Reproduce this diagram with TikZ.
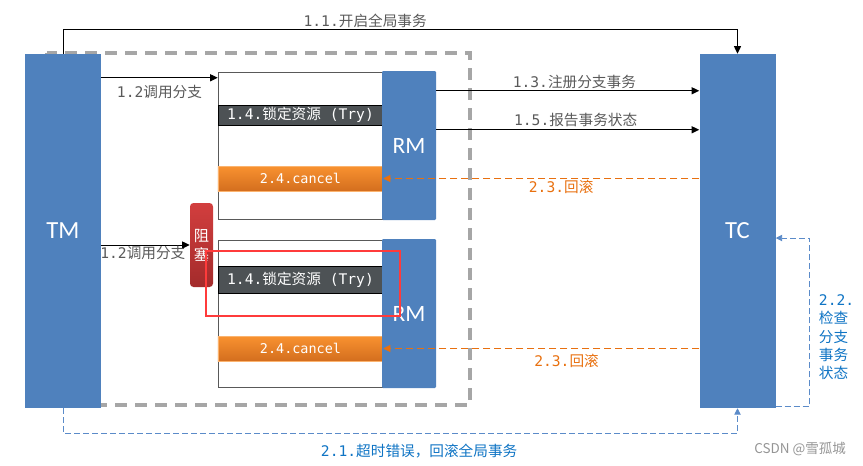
\documentclass[tikz,border=0pt]{standalone}
\usepackage{fontspec}
\newfontfamily\cjk{Noto Sans CJK SC}
\newfontfamily\mono{DejaVu Sans Mono}
\newfontfamily\cali{Carlito}
\usetikzlibrary{arrows.meta}
\definecolor{tmblue}{HTML}{4F81BD}
\definecolor{trygray}{HTML}{4D5255}
\definecolor{cantop}{HTML}{F99230}
\definecolor{canbot}{HTML}{D36E1E}
\definecolor{blocktop}{HTML}{D23E3E}
\definecolor{blockbot}{HTML}{A32B2B}
\definecolor{txtgray}{HTML}{595959}
\definecolor{rborange}{HTML}{E8700F}
\definecolor{tolblue}{HTML}{0F74C4}
\definecolor{dashgray}{HTML}{A6A6A6}
\definecolor{linkblue}{HTML}{5B8BC9}
\definecolor{markred}{HTML}{FF3B3B}

\begin{document}
\begin{tikzpicture}[x=0.03cm, y=-0.03cm, font=\cjk\fontsize{12.5}{16}\selectfont,
  party/.style={fill=tmblue, text=white, font=\cali\fontsize{21}{24}\selectfont, minimum width=2.28cm, minimum height=10.62cm, inner sep=0pt},
  rm/.style={fill=tmblue, rounded corners=1pt, text=white, font=\cali\fontsize{20}{22}\selectfont, minimum width=1.62cm, minimum height=4.47cm, inner sep=0pt},
  branch/.style={draw=txtgray, fill=white, minimum width=4.95cm, minimum height=4.41cm, inner sep=0pt},
  trybox/.style={draw=black, fill=trygray, text=white, minimum width=4.95cm, inner sep=0pt, font=\cjk\fontsize{12.5}{14}\selectfont},
  cancelbox/.style={top color=cantop, bottom color=canbot, draw=cantop!70!white, text=white, minimum width=4.95cm, minimum height=0.75cm, inner sep=0pt, font=\mono\fontsize{11.5}{14}\selectfont},
  blockbox/.style={top color=blocktop, bottom color=blockbot, rounded corners=3pt, text=white, align=center, minimum width=0.69cm, minimum height=2.52cm, inner sep=0pt, font=\cjk\fontsize{13}{16}\selectfont},
  group/.style={draw=dashgray, line width=2.7pt, dash pattern=on 0.36cm off 0.24cm},
  focus/.style={draw=markred, line width=2.2pt},
  flow/.style={-{Triangle[length=6.5pt,width=6pt]}, line width=0.85pt},
  back/.style={-{Triangle[length=6pt,width=6pt]}, draw=rborange, line width=0.8pt, dash pattern=on 0.21cm off 0.12cm},
  check/.style={-{Triangle[length=5.5pt,width=5.5pt]}, draw=linkblue, line width=0.8pt, dash pattern=on 0.18cm off 0.09cm},
  lbl/.style={text=txtgray, inner sep=1pt},
  olbl/.style={text=rborange, inner sep=1pt},
  blbl/.style={text=tolblue, inner sep=1pt}]
\useasboundingbox (0,0) rectangle (863,465);

\draw[group] (47,53) rectangle (470,405);

\node[party] (TM) at (63,231)    {TM};
\node[party] (TC) at (737.5,231) {TC};

% upper branch
\node[branch]    (br1)     at (300.5,145.5) {};
\node[trybox, minimum height=0.6cm] (try1) at (300.5,115) {{\mono 1.4.}锁定资源{\mono{} (Try)}};
\node[cancelbox] (cancel1) at (300.5,178.5) {2.4.cancel};
\node[rm]        (RM1)     at (409,145.5)   {RM};

% lower branch
\node[branch]    (br2)     at (300.5,313.5) {};
\node[trybox, minimum height=0.81cm] (try2) at (300.5,279.5) {{\mono 1.4.}锁定资源{\mono{} (Try)}};
\node[cancelbox] (cancel2) at (300.5,348.5) {2.4.cancel};
\node[rm]        (RM2)     at (409,313.5)   {RM};

\node[blockbox]  (block)   at (201.5,245)   {阻\\塞};

\coordinate (in1) at ([yshift=-0.18cm]br1.north west);
\coordinate (reg) at ([yshift=-0.6cm]RM1.north east);
\coordinate (rep) at ([yshift=-1.77cm]RM1.north east);

\draw[flow] (TM.north) -- ++(0,-24) -| node[lbl, above, pos=0.224]{{\mono 1.1.}开启全局事务} (TC.north);
\draw[flow] (TM.east |- in1) -- node[lbl, below=4.5pt]{{\mono 1.2}调用分支} (in1);
\draw[flow] (TM.east |- block.west) -- node[lbl, below, pos=0.47]{{\mono 1.2}调用分支} (block.west);
\draw[flow] (reg) -- node[lbl, above, pos=0.525]{{\mono 1.3.}注册分支事务} (TC.west |- reg);
\draw[flow] (rep) -- node[lbl, above=1.5pt, pos=0.53]{{\mono 1.5.}报告事务状态} (TC.west |- rep);

\draw[back] (TC.west |- cancel1.east) -- node[olbl, below, pos=0.437]{{\mono 2.3.}回滚} (cancel1.east);
\draw[back] (TC.west |- cancel2.east) -- node[olbl, below=3.5pt, pos=0.42]{{\mono 2.3.}回滚} (cancel2.east);

\draw[check] (TM.south) -- ++(0,25) -| node[blbl, below=7.5pt, pos=0.264]{{\mono 2.1.}超时错误，回滚全局事务} (TC.south);
\draw[check] ([yshift=0.06cm]TC.south east) -- ++(34,0) |- node[blbl, right=6.5pt, pos=0.205, align=left, font=\cjk\fontsize{12.5}{15.7}\selectfont]{{\mono 2.2.}\\检查\\分支\\事务\\状态} ([yshift=-0.21cm]TC.east);

\draw[focus] (206,251) rectangle (400,316);

\node[text=dashgray!90!black, font=\cjk\fontsize{11.5}{13}\selectfont] (mark) at (800,449) {CSDN @雪孤城};
\end{tikzpicture}
\end{document}
